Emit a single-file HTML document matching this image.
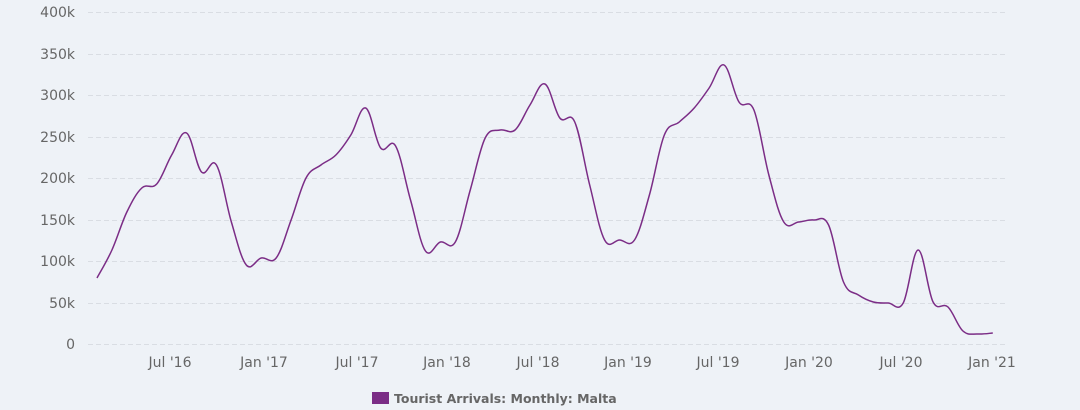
<!DOCTYPE html>
<html><head><meta charset="utf-8"><style>
html,body{margin:0;padding:0;background:#eef2f7;}
svg{display:block;font-family:"DejaVu Sans","Liberation Sans",sans-serif;}
.t{fill:#666;font-size:14px;}
</style></head><body>
<svg id="s" width="1080" height="410" viewBox="0 0 1080 410">
<rect width="1080" height="410" fill="#eef2f7"/>
<g stroke="#d9dde3" stroke-dasharray="5,3" stroke-width="1">
<line x1="88" x2="1005" y1="12.5" y2="12.5"/><line x1="88" x2="1005" y1="54.5" y2="54.5"/>
<line x1="88" x2="1005" y1="95.5" y2="95.5"/><line x1="88" x2="1005" y1="137.5" y2="137.5"/>
<line x1="88" x2="1005" y1="178.5" y2="178.5"/><line x1="88" x2="1005" y1="220.5" y2="220.5"/>
<line x1="88" x2="1005" y1="261.5" y2="261.5"/><line x1="88" x2="1005" y1="303.5" y2="303.5"/>
<line x1="88" x2="1005" y1="344.5" y2="344.5"/>
</g>
<g class="t" text-anchor="end">
<text x="75" y="17">400k</text><text x="75" y="59">350k</text><text x="75" y="100">300k</text>
<text x="75" y="142">250k</text><text x="75" y="183">200k</text><text x="75" y="225">150k</text>
<text x="75" y="266">100k</text><text x="75" y="308">50k</text><text x="75" y="349">0</text>
</g>
<g class="t" text-anchor="middle">
<text x="170" y="367">Jul '16</text><text x="264" y="367">Jan '17</text><text x="357" y="367">Jul '17</text>
<text x="447" y="367">Jan '18</text><text x="538" y="367">Jul '18</text><text x="628" y="367">Jan '19</text>
<text x="718" y="367">Jul '19</text><text x="809" y="367">Jan '20</text><text x="901" y="367">Jul '20</text>
<text x="992" y="367">Jan '21</text>
</g>
<path id="p" fill="none" stroke="#7b2d86" stroke-width="1.5"/>
<rect x="372" y="392" width="17" height="12" fill="#7b2d86"/>
<text x="394" y="403" style="fill:#666;font-size:12.5px;font-weight:bold">Tourist Arrivals: Monthly: Malta</text>
</svg>
<script>
var ys=[278,250,212,188,184,155,133,172,165,222,265,258,258,220,178,165,155,135,108,148,146,200,251,242,242,190,138,130,130,105,84,118,122,185,240,240,240,195,135,122,108,88,65,102,110,175,222,222,220,225,282,295,302,303,303,250,302,307,331,334,333];
var pts=ys.map(function(y,i){return [97+i*14.93,y];});
var d="M"+pts[0][0]+","+pts[0][1];
for(var i=0;i<pts.length-1;i++){
var p0=pts[i-1]||pts[i],p1=pts[i],p2=pts[i+1],p3=pts[i+2]||p2,t=0.18;
var c1=[p1[0]+(p2[0]-p0[0])*t,p1[1]+(p2[1]-p0[1])*t];
var c2=[p2[0]-(p3[0]-p1[0])*t,p2[1]-(p3[1]-p1[1])*t];
d+=" C"+c1.join(",")+" "+c2.join(",")+" "+p2.join(",");}
document.getElementById("p").setAttribute("d",d);
</script>
</body></html>
